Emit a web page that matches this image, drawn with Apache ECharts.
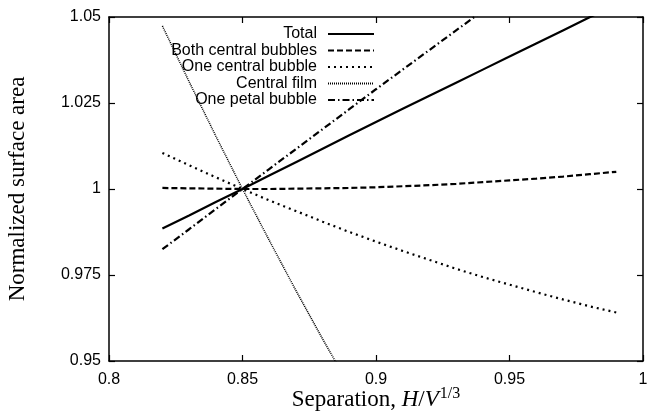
<!DOCTYPE html>
<html>
<head>
<meta charset="utf-8">
<script src="https://cdn.jsdelivr.net/npm/echarts@6/dist/echarts.min.js"></script>
<style>
html,body{margin:0;padding:0;background:#fff;}
#c{width:648px;height:413px;}
</style>
</head>
<body>
<div id="c"></div>
<script>
// Data
const xs = [0.82,0.83,0.84,0.85,0.86,0.87,0.88,0.89,0.90,0.91,0.92,0.93,0.94,0.95,0.96,0.97,0.98,0.99];
const total = [0.9885,0.9923,0.9962,1.0000,1.0039,1.0078,1.0117,1.0156,1.0195,1.0233,1.0271,1.0309,1.0347,1.0385,1.0423,1.0461,1.0499,1.0537];
const bothCentral = [1.0003,1.0002,1.0001,1.0000,1.0000,1.0001,1.0002,1.0003,1.0005,1.0008,1.0011,1.0015,1.0020,1.0025,1.0030,1.0036,1.0043,1.0050];
const oneCentral = [1.0105,1.0069,1.0034,1.0000,0.9967,0.9936,0.9905,0.9875,0.9847,0.9820,0.9794,0.9768,0.9744,0.9722,0.9700,0.9679,0.9659,0.9641];
const filmXs = [0.82,0.83,0.84,0.85,0.86,0.87,0.88,0.89];
const centralFilm = [1.0474,1.0312,1.0154,1.0000,0.9851,0.9705,0.9564,0.9428];
const petalXs = [0.82,0.83,0.84,0.85,0.86,0.87,0.88,0.89,0.90,0.91,0.92,0.93,0.94,0.95];
const onePetal = [0.9825,0.9883,0.9942,1.0000,1.0058,1.0116,1.0174,1.0232,1.0290,1.0347,1.0404,1.0461,1.0518,1.0574];
const seriesNames = ['Total','Both central bubbles','One central bubble','Central film','One petal bubble'];
const xTicks = {min:0.8, max:1.0, interval:0.05};
const yTicks = {min:0.95, max:1.05, interval:0.025};

const zip = (a,b) => a.map((v,i)=>[v,b[i]]);
const sans = 'Liberation Sans';
const serif = 'Liberation Serif';

const axisLine = {show:true, lineStyle:{color:'#000', width:1.5}};
const tick = {show:true, inside:true, length:6, lineStyle:{color:'#000', width:1.2}};

function lineSeries(name, data, type, width){
  return {
    name, type:'line', data, symbol:'none', showSymbol:false, smooth:false,
    clip:true, silent:true, animation:false,
    lineStyle:{color:'#000', width, type},
    itemStyle:{color:'#000'},
    xAxisIndex:0, yAxisIndex:0
  };
}

const chart = echarts.init(document.getElementById('c'), null, {renderer:'canvas'});
chart.setOption({
  backgroundColor:'#fff',
  animation:false,
  grid:{left:109, right:5, top:17, bottom:52, containLabel:false, outerBoundsMode:'none'},
  legend:{
    orient:'vertical', align:'right', right:268, top:21,
    itemWidth:46, itemHeight:12, itemGap:0.5,
    itemStyle:{opacity:0, borderWidth:0},
    textStyle:{fontFamily:sans, fontSize:16, color:'#000', padding:[0,6,0,0]},
    data:seriesNames
  },
  xAxis:[
    {type:'value', min:xTicks.min, max:xTicks.max, interval:xTicks.interval,
     axisLine, axisTick:tick, splitLine:{show:false},
     axisLabel:{fontFamily:sans, fontSize:16, color:'#000', margin:11},
     name:'{n|Separation, }{i|H}{n|/}{i|V}{s|1/3}', nameLocation:'middle', nameGap:25,
     nameMoveOverlap:false,
     nameTextStyle:{rich:{
       n:{fontFamily:serif, fontSize:23, color:'#000'},
       i:{fontFamily:serif, fontStyle:'italic', fontSize:23, color:'#000'},
       s:{fontFamily:serif, fontSize:16, color:'#000', padding:[0,0,11,1]}
     }}
    },
    {type:'value', position:'top', min:xTicks.min, max:xTicks.max, interval:xTicks.interval,
     axisLine, axisTick:tick, splitLine:{show:false}, axisLabel:{show:false}}
  ],
  yAxis:[
    {type:'value', min:yTicks.min, max:yTicks.max, interval:yTicks.interval,
     axisLine, axisTick:tick, splitLine:{show:false},
     axisLabel:{fontFamily:sans, fontSize:16, color:'#000', margin:8},
     name:'Normalized surface area', nameLocation:'middle', nameRotate:90, nameGap:80,
     nameMoveOverlap:false,
     nameTextStyle:{fontFamily:serif, fontSize:23, color:'#000'}
    },
    {type:'value', position:'right', min:yTicks.min, max:yTicks.max, interval:yTicks.interval,
     axisLine, axisTick:tick, splitLine:{show:false}, axisLabel:{show:false}}
  ],
  series:[
    lineSeries('Total', zip(xs,total), 'solid', 2.2),
    lineSeries('Both central bubbles', zip(xs,bothCentral), [6,3], 2.2),
    lineSeries('One central bubble', zip(xs,oneCentral), [2,4], 2.2),
    lineSeries('Central film', zip(filmXs,centralFilm), [1,1], 1.5),
    lineSeries('One petal bubble', zip(petalXs,onePetal), [7,3,1.5,3], 2.2)
  ]
});
</script>
</body>
</html>
